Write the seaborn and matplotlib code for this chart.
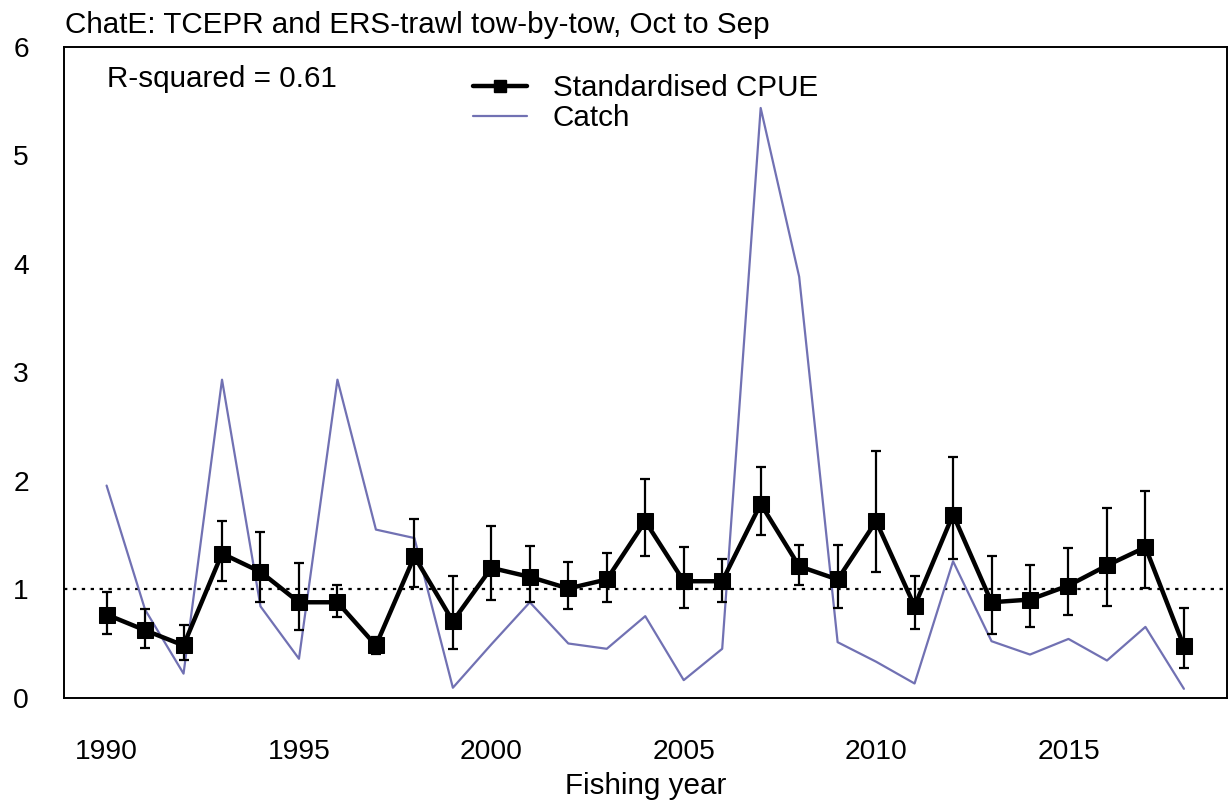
import matplotlib
matplotlib.use("Agg")
import matplotlib.pyplot as plt
import seaborn as sns
import pandas as pd
import numpy as np
from matplotlib.lines import Line2D

# Fishing years and indices
years = list(range(1990, 2019))
cpue = [0.765, 0.62, 0.48, 1.327, 1.158, 0.878, 0.878, 0.48, 1.30, 0.703,
        1.195, 1.112, 1.005, 1.088, 1.625, 1.072, 1.072, 1.785, 1.21, 1.088,
        1.625, 0.842, 1.687, 0.878, 0.903, 1.032, 1.217, 1.385, 0.473]
cpue_lower = [0.59, 0.458, 0.344, 1.07, 0.878, 0.62, 0.744, 0.405, 1.02, 0.449,
              0.903, 0.878, 0.817, 0.878, 1.309, 0.826, 0.878, 1.496, 1.041, 0.826,
              1.155, 0.627, 1.281, 0.59, 0.651, 0.762, 0.842, 1.005, 0.276]
cpue_upper = [0.974, 0.82, 0.67, 1.625, 1.527, 1.24, 1.035, 0.56, 1.647, 1.118,
              1.585, 1.40, 1.247, 1.333, 2.018, 1.389, 1.281, 2.123, 1.404, 1.404,
              2.27, 1.118, 2.218, 1.30, 1.226, 1.382, 1.751, 1.908, 0.823]
catch = [1.954, 0.81, 0.22, 2.93, 0.84, 0.357, 2.93, 1.548, 1.47, 0.09,
         0.49, 0.878, 0.498, 0.449, 0.75, 0.16, 0.449, 5.435, 3.88, 0.51,
         0.33, 0.129, 1.256, 0.519, 0.396, 0.54, 0.341, 0.651, 0.08]

title = "ChatE: TCEPR and ERS-trawl tow-by-tow, Oct to Sep"
r2_label = "R-squared = 0.61"
x_ticks = [1990, 1995, 2000, 2005, 2010, 2015]
y_ticks = [0, 1, 2, 3, 4, 5, 6]

catch_color = "#7171b3"
fs_text = 21.3
fs_tick = 20.3

sns.set_theme(style="white")
plt.rcParams["font.family"] = ["Liberation Sans", "DejaVu Sans"]
plt.rcParams["text.color"] = "black"

df = pd.DataFrame({"year": years, "cpue": cpue, "lo": cpue_lower,
                   "hi": cpue_upper, "catch": catch})

W, H = 1229, 802
fig = plt.figure(figsize=(W / 100, H / 100), dpi=100)
ax = fig.add_axes([63.5 / W, 1 - 697.5 / H, (1227 - 63.5) / W, (697.5 - 46.7) / H])

# Reference line at 1
ax.axhline(1, color="black", lw=1.6, ls=(0, (1.5, 2.5)), zorder=1)

# Catch series
sns.lineplot(data=df, x="year", y="catch", ax=ax, color=catch_color,
             lw=1.6, zorder=2)

# Confidence intervals
yerr = np.vstack([df["cpue"] - df["lo"], df["hi"] - df["cpue"]])
ax.errorbar(df["year"], df["cpue"], yerr=yerr, fmt="none", ecolor="black",
            elinewidth=1.6, capsize=3.8, capthick=1.6, zorder=3)

# Standardised CPUE
sns.lineplot(data=df, x="year", y="cpue", ax=ax, color="black", lw=3.2,
             marker="s", markersize=12, markeredgecolor="black",
             markerfacecolor="black", zorder=4)

ax.set_xlim(1990 - 1.12, 2018 + 1.12)
ax.set_ylim(0, 6)
ax.set_xticks(x_ticks)
ax.set_yticks(y_ticks)
ax.set_xticklabels([str(v) for v in x_ticks], fontsize=fs_tick)
ax.set_yticklabels([str(v) for v in y_ticks], fontsize=fs_tick)
ax.tick_params(axis="both", direction="out", length=13, width=1.4,
               color="black", labelcolor="black")
ax.tick_params(axis="x", pad=17)
ax.tick_params(axis="y", pad=12)
for s in ax.spines.values():
    s.set_visible(True)
    s.set_color("black")
    s.set_linewidth(1.4)

ax.set_xlabel("Fishing year", fontsize=fs_text, labelpad=5, color="black")
ax.set_ylabel("")

fig.text(65 / W, 1 - 33.3 / H, title, fontsize=fs_text, ha="left",
         va="baseline", color="black")
fig.text(106.7 / W, 1 - 87.3 / H, r2_label, fontsize=fs_text, ha="left",
         va="baseline", color="black")

handles = [Line2D([], [], color="black", lw=3.2, marker="s", markersize=9),
           Line2D([], [], color=catch_color, lw=1.6)]
ax.legend(handles, ["Standardised CPUE", "Catch"], loc="upper left",
          bbox_to_anchor=(473 / W, 1 - 74 / H),
          bbox_transform=fig.transFigure, frameon=False, fontsize=fs_text,
          handlelength=1.82, handletextpad=0.88, labelspacing=0.08,
          borderpad=0, borderaxespad=0, labelcolor="black")

fig.savefig("out.png", dpi=100)
